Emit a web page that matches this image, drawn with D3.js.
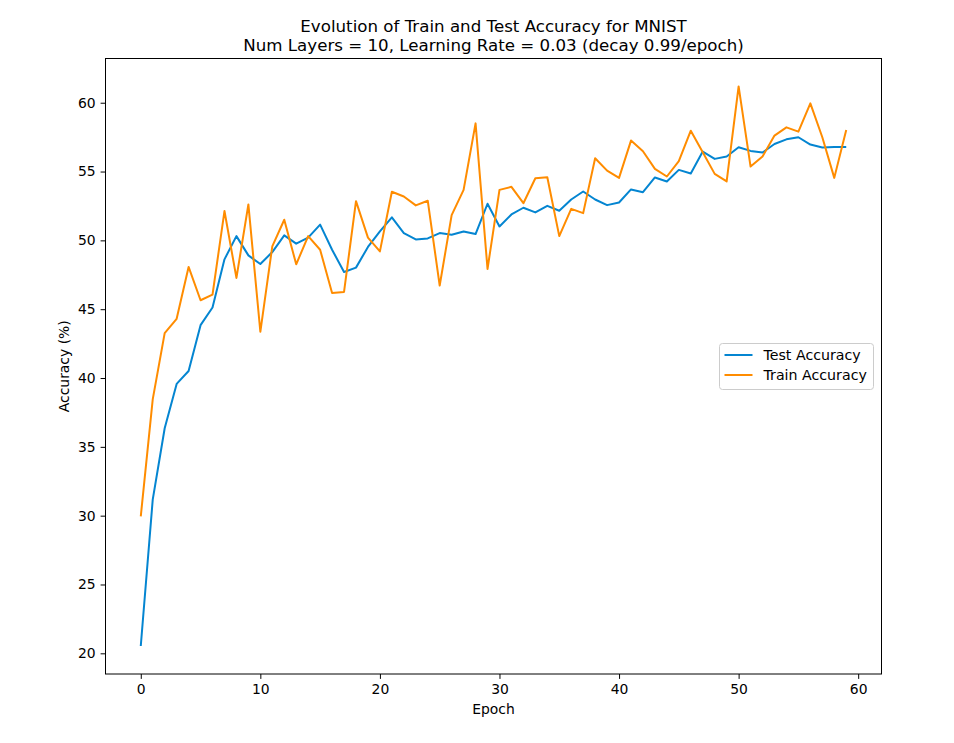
<!DOCTYPE html>
<html>
<head>
<meta charset="utf-8">
<script src="https://cdn.jsdelivr.net/npm/d3@7"></script>
<style>
  body { margin: 0; background: #fff; }
  svg { font-family: "DejaVu Sans", sans-serif; }
</style>
</head>
<body>
<svg id="chart" width="954" height="743"></svg>
<script>
// Accuracy per epoch
const testAcc = [
  20.53, 31.16, 36.35, 39.57, 40.51, 43.84, 45.12, 48.62, 50.31, 48.91,
  48.28, 49.15, 50.36, 49.76, 50.2, 51.14, 49.32, 47.7, 48.02, 49.52,
  50.65, 51.67, 50.53, 50.07, 50.14, 50.53, 50.41, 50.65, 50.46, 52.66,
  51.01, 51.88, 52.37, 52.03, 52.51, 52.15, 52.97, 53.55, 52.97, 52.56,
  52.75, 53.7, 53.5, 54.57, 54.28, 55.12, 54.86, 56.45, 55.92, 56.09,
  56.76, 56.5, 56.38, 57.0, 57.34, 57.49, 56.96, 56.74, 56.79, 56.79
];
const trainAcc = [
  29.95, 38.45, 43.26, 44.3, 48.07, 45.65, 46.06, 52.13, 47.27, 52.61,
  43.36, 49.57, 51.5, 48.26, 50.31, 49.32, 46.18, 46.25, 52.85, 50.2,
  49.2, 53.53, 53.19, 52.54, 52.88, 46.72, 51.83, 53.67, 58.5, 47.92,
  53.67, 53.89, 52.7, 54.51, 54.59, 50.31, 52.29, 51.98, 55.97, 55.07,
  54.54, 57.25, 56.47, 55.19, 54.64, 55.75, 57.97, 56.4, 54.83, 54.28,
  61.18, 55.36, 56.09, 57.61, 58.21, 57.9, 59.95, 57.49, 54.54, 58.02
];
const epochs = d3.range(testAcc.length);
const xTicks = [0, 10, 20, 30, 40, 50, 60];
const yTicks = [20, 25, 30, 35, 40, 45, 50, 55, 60];
const seriesNames = ["Test Accuracy", "Train Accuracy"];
const seriesColors = ["#0485d1", "#ff8c00"];
const titleLines = [
  "Evolution of Train and Test Accuracy for MNIST",
  "Num Layers = 10, Learning Rate = 0.03 (decay 0.99/epoch)"
];

const svg = d3.select("#chart");
const margin = { top: 58.5, right: 72.5, bottom: 69, left: 105.5 };
const width = 954 - margin.left - margin.right;
const height = 743 - margin.top - margin.bottom;

const g = svg.append("g")
  .attr("transform", `translate(${margin.left},${margin.top})`);

// matplotlib style 5% padding around the data
const xPad = (epochs.length - 1) * 0.05;
const x = d3.scaleLinear()
  .domain([-xPad, epochs.length - 1 + xPad])
  .range([0, width]);

const allVals = testAcc.concat(trainAcc);
const yMin = d3.min(allVals), yMax = d3.max(allVals);
const yPad = (yMax - yMin) * 0.05;
const y = d3.scaleLinear()
  .domain([yMin - yPad, yMax + yPad])
  .range([height, 0]);

// Axes
const xAxis = g.append("g")
  .attr("transform", `translate(0,${height})`)
  .call(d3.axisBottom(x).tickValues(xTicks).tickSize(4.9).tickPadding(5));
const yAxis = g.append("g")
  .call(d3.axisLeft(y).tickValues(yTicks).tickSize(4.9).tickPadding(5));

[xAxis, yAxis].forEach(a => {
  a.select(".domain").remove();
  a.selectAll("text").attr("font-size", 13.9).attr("fill", "#000")
    .attr("font-family", "DejaVu Sans");
  a.selectAll("line").attr("stroke", "#000").attr("stroke-width", 1);
});

// Lines
const line = d3.line()
  .x((d, i) => x(i))
  .y(d => y(d));

[testAcc, trainAcc].forEach((vals, k) => {
  g.append("path")
    .datum(vals)
    .attr("fill", "none")
    .attr("stroke", seriesColors[k])
    .attr("stroke-width", 2)
    .attr("stroke-linejoin", "round")
    .attr("d", line);
});

// Frame
g.append("rect")
  .attr("width", width)
  .attr("height", height)
  .attr("fill", "none")
  .attr("stroke", "#000")
  .attr("stroke-width", 1);

// Legend
const legend = g.append("g")
  .attr("transform", `translate(${719.5 - margin.left},${343.5 - margin.top})`);
legend.append("rect")
  .attr("width", 154)
  .attr("height", 46)
  .attr("rx", 3)
  .attr("fill", "#fff")
  .attr("fill-opacity", 0.8)
  .attr("stroke", "#ccc")
  .attr("stroke-width", 1);
seriesNames.forEach((name, k) => {
  const ly = 11.5 + k * 20;
  legend.append("line")
    .attr("x1", 5).attr("x2", 33)
    .attr("y1", ly).attr("y2", ly)
    .attr("stroke", seriesColors[k])
    .attr("stroke-width", 2);
  legend.append("text")
    .attr("x", 44).attr("y", ly)
    .attr("dy", "0.35em")
    .attr("font-size", 14.2)
    .text(name);
});

// Title
titleLines.forEach((t, i) => {
  svg.append("text")
    .attr("x", margin.left + width / 2)
    .attr("y", 32 + i * 19)
    .attr("text-anchor", "middle")
    .attr("font-size", 16.67)
    .text(t);
});

// Axis labels
svg.append("text")
  .attr("x", margin.left + width / 2)
  .attr("y", 714)
  .attr("text-anchor", "middle")
  .attr("font-size", 13.9)
  .text("Epoch");

svg.append("text")
  .attr("transform", `translate(69,${margin.top + height / 2}) rotate(-90)`)
  .attr("text-anchor", "middle")
  .attr("font-size", 13.9)
  .text("Accuracy (%)");
</script>
</body>
</html>
